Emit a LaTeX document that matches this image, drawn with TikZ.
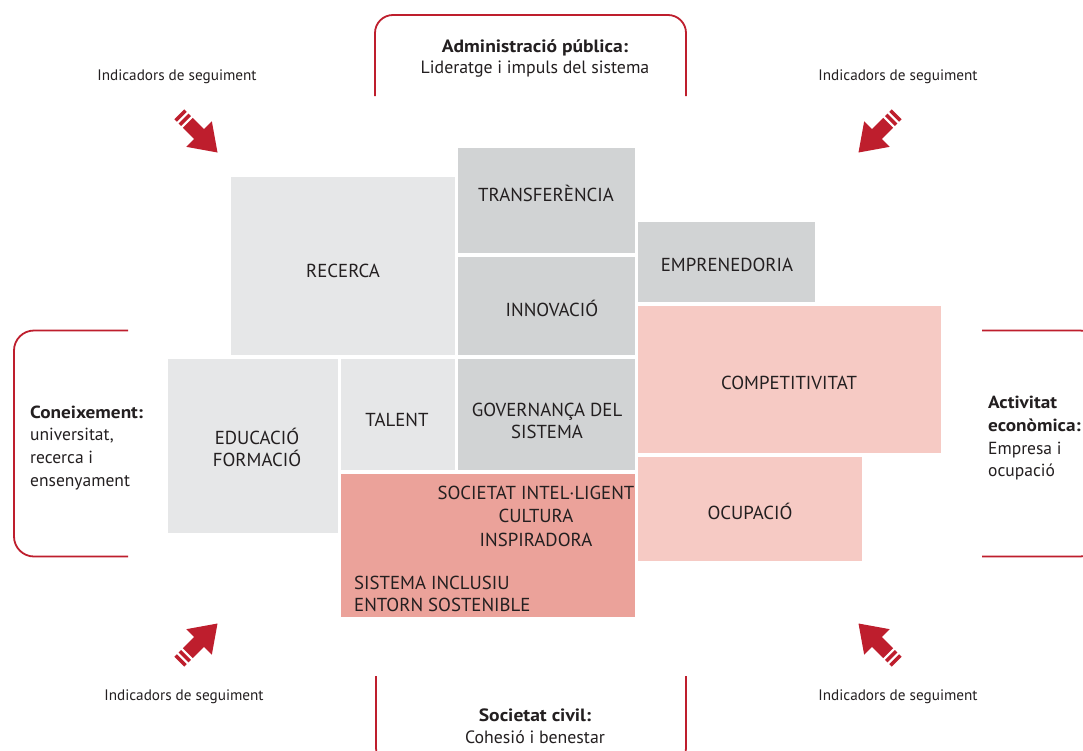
\documentclass[tikz,border=0pt]{standalone}
\usepackage{fontspec}
\setmainfont{PT Sans}[BoldFeatures={FakeStretch=1.1}]
\definecolor{lgray}{HTML}{E6E7E8}
\definecolor{mgray}{HTML}{D1D3D4}
\definecolor{lpink}{HTML}{F6CAC4}
\definecolor{dpink}{HTML}{EBA29A}
\definecolor{redA}{HTML}{BE1E2D}
\definecolor{txt}{HTML}{231F20}
\newcommand\myredarrow[2]{%
  \begin{scope}[shift={#1},rotate=#2]
    \fill[redA] (0,0) -- (-26,18) -- (-26,7) -- (-42,7) -- (-42,-7) -- (-26,-7) -- (-26,-18) -- cycle;
    \fill[redA] (-44.5,7) rectangle (-48,-7);
    \fill[redA] (-50.5,7) rectangle (-54,-7);
  \end{scope}}
\begin{document}
\begin{tikzpicture}[x=1pt,y=-1pt,
  box/.style={fill=#1, draw=none, inner sep=0pt, anchor=north west},
  lbl/.style={text=txt, inner sep=0pt, anchor=base, align=center, font=\fontsize{18.8}{22.5}\selectfont},
  side/.style={text=txt, inner sep=0pt, anchor=base west, align=left, font=\fontsize{17.5}{22.6}\selectfont},
  head/.style={text=txt, inner sep=0pt, anchor=base, align=center, font=\fontsize{17.8}{21.6}\selectfont},
  ind/.style={text=txt, inner sep=0pt, anchor=base, font=\fontsize{15.2}{17}\selectfont},
  bracket/.style={draw=redA, line width=1.8pt, rounded corners=20pt}]
\useasboundingbox (0,0) rectangle (1083,750);
\fill[white] (0,0) rectangle (1083,750);

% boxes
\node[box=lgray, minimum width=224pt, minimum height=178pt] (recerca) at (231,177) {};
\node[box=mgray, minimum width=177pt, minimum height=105pt] (transf) at (458,148) {};
\node[box=mgray, minimum width=177pt, minimum height=98pt] (innov) at (458,257) {};
\node[box=mgray, minimum width=177pt, minimum height=80pt] (empren) at (638,222) {};
\node[box=lpink, minimum width=303pt, minimum height=147pt] (compet) at (638,306) {};
\node[box=lpink, minimum width=224pt, minimum height=104pt] (ocup) at (638,457) {};
\node[box=lgray, minimum width=170pt, minimum height=174pt] (educ) at (168,359) {};
\node[box=lgray, minimum width=114pt, minimum height=111pt] (talent) at (341,359) {};
\node[box=mgray, minimum width=177pt, minimum height=111pt] (gov) at (458,359) {};
\node[box=dpink, minimum width=294pt, minimum height=143pt] (soc) at (341,474) {};

% box labels (base anchor = baseline of last line)
\node[lbl] (lrecerca) at (343,277) {RECERCA};
\node[lbl] (ltransf) at (546,201) {TRANSFERÈNCIA};
\node[lbl] (linnov) at (552,316) {INNOVACIÓ};
\node[lbl] (lempren) at (727,271) {EMPRENEDORIA};
\node[lbl] (lcompet) at (789,389) {COMPETITIVITAT};
\node[lbl] (locup) at (750,519) {OCUPACIÓ};
\node[lbl] (leduc) at (257,466.7) {EDUCACIÓ\\FORMACIÓ};
\node[lbl] (ltalent) at (397,426) {TALENT};
\node[lbl, font=\fontsize{18.8}{21.7}\selectfont] (lgov) at (547,438.3) {GOVERNANÇA DEL\\SISTEMA};
\node[lbl, font=\fontsize{18.8}{23.3}\selectfont] (lsoc) at (536,546) {SOCIETAT INTEL·LIGENT\\CULTURA\\INSPIRADORA};
\node[lbl, anchor=base west, align=left] (lsis) at (354,611.7) {SISTEMA INCLUSIU\\ENTORN SOSTENIBLE};

% brackets
\draw[bracket] (128,330.5) -- (14,330.5) -- (14,556.5) -- (128,556.5);
\draw[bracket] (982,330.5) -- (1100,330.5) -- (1100,556.5) -- (982,556.5);
\draw[bracket, rounded corners=18pt] (375,96) -- (375,15) -- (686,15) -- (686,96);
\draw[bracket, rounded corners=18pt] (376,676) -- (376,766) -- (686,766) -- (686,676);

% bracket texts
\node[head, font=\fontsize{17.8}{21}\selectfont] (tadm) at (535,73) {\textbf{Administració pública:}\\Lideratge i impuls del sistema};
\node[head] (tsoc) at (535,743.4) {\textbf{Societat civil:}\\Cohesió i benestar};
\node[side] (tcon) at (30,486) {\textbf{Coneixement:}\\universitat,\\recerca i\\ensenyament};
\node[side] (tact) at (988,476.7) {\textbf{Activitat}\\\textbf{econòmica:}\\Empresa i\\ocupació};

% indicator texts
\node[ind] (i1) at (177,80.7) {Indicadors de seguiment};
\node[ind] (i2) at (898,80.7) {Indicadors de seguiment};
\node[ind] (i3) at (184,700) {Indicadors de seguiment};
\node[ind] (i4) at (898,700) {Indicadors de seguiment};

% arrows
\myredarrow{(217.5,152.5)}{-45}
\myredarrow{(858.5,152.5)}{-135}
\myredarrow{(217.5,623.5)}{45}
\myredarrow{(858.5,623.5)}{135}
\end{tikzpicture}
\end{document}
